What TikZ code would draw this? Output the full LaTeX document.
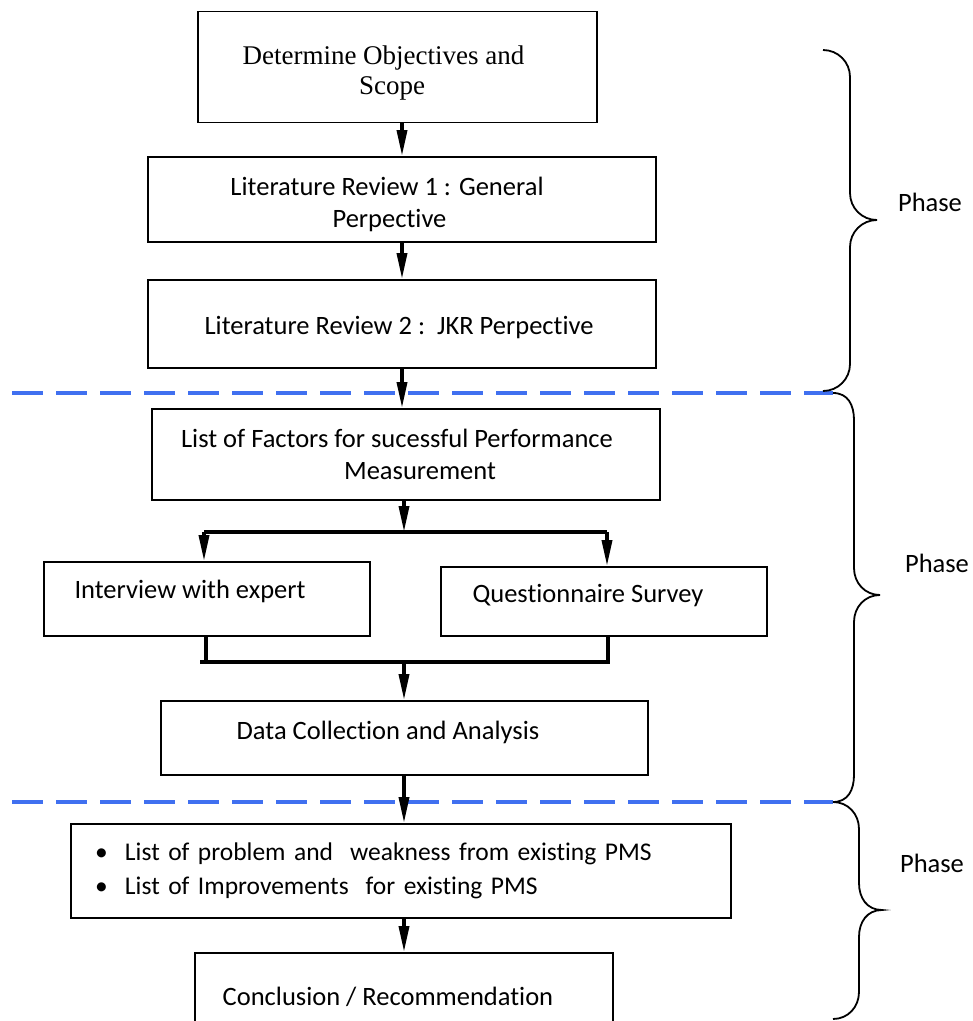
\documentclass[tikz,border=0pt]{standalone}
\usepackage{fontspec}
\setmainfont{Carlito}[Ligatures=NoCommon]
\newfontfamily\timesf{Liberation Serif}
\usetikzlibrary{arrows.meta}
\definecolor{phaseblue}{RGB}{64,112,240}
\newcommand\phasebrace[6]{%
  \draw[brace] (#1,#2) .. controls ({#1+15},#2) and (#3,{#2+12}) .. (#3,{#2+27})
    -- (#3,{#5-27}) .. controls (#3,{#5-12}) and ({#4-15},#5) .. (#4,#5)
    .. controls ({#4-15},#5) and (#3,{#5+12}) .. (#3,{#5+27})
    -- (#3,{#6-27}) .. controls (#3,{#6-12}) and ({#1+15},#6) .. (#1,#6);}
\begin{document}
\begin{tikzpicture}[x=1pt,y=-1pt,
  box/.style={draw, line width=1.8pt, rectangle, inner sep=0pt, align=center,
    font=\fontsize{26.5}{32}\selectfont},
  flow/.style={line width=3.5pt, -{Triangle[length=26pt,width=10pt]}},
  stem/.style={line width=3.5pt},
  bar/.style={line width=4pt},
  sep/.style={phaseblue, line width=4pt, dash pattern=on 31pt off 13pt},
  brace/.style={line width=1.8pt},
  phase/.style={font=\fontsize{26.5}{32}\selectfont}]
\useasboundingbox (0,0) rectangle (973,1021);
\clip (0,0) rectangle (973,1021);

% phase separators
\draw[sep] (12,393) -- (833,393);
\draw[sep] (12,802) -- (833,802);

% boxes
\node[box, minimum width=399pt, minimum height=111pt, text height=60pt,
  font=\timesf\fontsize{27}{30}\selectfont] (b1) at (397.5,67)
  {\hspace*{-28pt}Determine Objectives and\\\hspace*{-11pt}Scope};
\node[box, minimum width=508pt, minimum height=85pt, text height=60pt] (b2) at (402,199.5)
  {\hspace*{-30pt}Literature Review 1 : General\\\hspace*{-25pt}Perpective};
\node[box, minimum width=508pt, minimum height=88pt, text height=26pt] (b3) at (402,324)
  {\hspace*{-6pt}Literature Review 2 :\ \ JKR Perpective};
\node[box, minimum width=508pt, minimum height=91pt] (b4) at (406,454.5)
  {\hspace*{-18pt}List of Factors for sucessful Performance\\\hspace*{28pt}Measurement};
\node[box, minimum width=326pt, minimum height=74pt, text depth=19pt] (b5) at (207,599)
  {\hspace*{-34pt}Interview with expert};
\node[box, minimum width=326pt, minimum height=69pt, text depth=16pt] (b6) at (604,601.5)
  {\hspace*{-32pt}Questionnaire Survey};
\node[box, minimum width=487pt, minimum height=74pt, text depth=15pt] (b7) at (404.5,738)
  {\hspace*{-33pt}Data Collection and Analysis};
\node[box, minimum width=660pt, minimum height=94pt, text width=612pt, align=left,
  inner xsep=24pt, font=\fontsize{25.5}{34}\selectfont] (b8) at (401,871)
  {\makebox[30pt][l]{\textbullet}List of problem and\ \ weakness from existing PMS\\
   \makebox[30pt][l]{\textbullet}List of Improvements\ \ for existing PMS};
\node[box, minimum width=418pt, minimum height=88pt] (b9) at (404,997)
  {\hspace*{-32pt}Conclusion / Recommendation};

% connectors
\draw[flow] (b2.north |- b1.south) -- (b2.north);
\draw[flow] (b2.south) -- (b3.north);
\draw[flow] (b3.south) -- (b3.south |- b4.north);

\coordinate (jt) at (404,532);
\coordinate (jl) at (204,532);
\coordinate (jr) at (607,532);
\draw[flow] (jt |- b4.south) -- (jt);
\draw[bar] (jl) -- (jr);
\draw[flow] (jl) -- (jl |- b5.north);
\draw[flow] (jr) -- (jr |- b6.north);

\coordinate (kl) at (200,662);
\coordinate (kr) at (610,662);
\coordinate (k5) at (206,662);
\coordinate (k6) at (608,662);
\coordinate (km) at (404,662);
\draw[stem] (k5 |- b5.south) -- (k5);
\draw[stem] (k6 |- b6.south) -- (k6);
\draw[bar] (kl) -- (kr);
\draw[flow] (km) -- (km |- b7.north);

\draw[flow] (km |- b7.south) -- (km |- b8.north);
\draw[flow] (km |- b8.south) -- (km |- b9.north);

% phase braces and labels
\phasebrace{823}{50}{850}{877}{220}{391}
\phasebrace{833}{393}{854}{880}{595}{802}
\phasebrace{833}{802}{859}{882}{910}{1019}
\node[phase] (p1) at (930,202) {Phase};
\node[phase] (p2) at (937,563) {Phase};
\node[phase] (p3) at (932,863) {Phase};
\end{tikzpicture}
\end{document}
